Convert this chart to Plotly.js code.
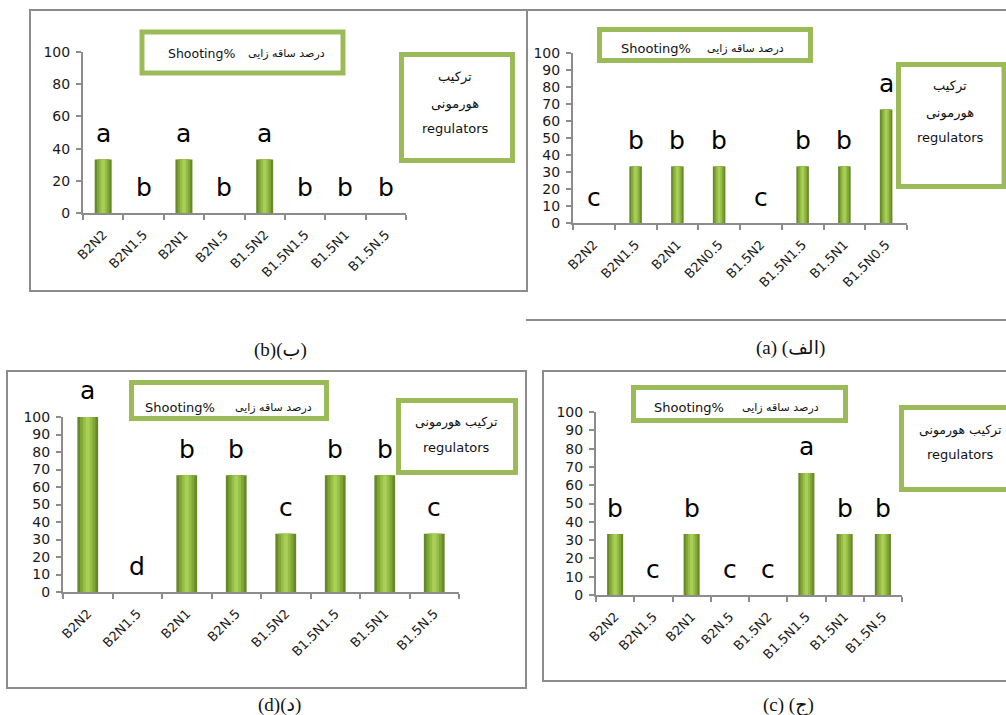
<!DOCTYPE html>
<html><head><meta charset="utf-8">
<script src="https://cdn.plot.ly/plotly-3.0.1.min.js"></script>
<style>html,body{margin:0;padding:0;background:#fff}</style>
</head><body><div id="chart" style="width:1006px;height:715px"></div>
<script>
// ---- data ----
const categoriesB = ['B2N2','B2N1.5','B2N1','B2N.5','B1.5N2','B1.5N1.5','B1.5N1','B1.5N.5'];
const categoriesA = ['B2N2','B2N1.5','B2N1','B2N0.5','B1.5N2','B1.5N1.5','B1.5N1','B1.5N0.5'];
const valuesB = [33.3,0,33.3,0,33.3,0,0,0];
const lettersB = ['a','b','a','b','a','b','b','b'];
const valuesA = [0,33.3,33.3,33.3,0,33.3,33.3,66.7];
const lettersA = ['c','b','b','b','c','b','b','a'];
const valuesD = [100,0,66.7,66.7,33.3,66.7,66.7,33.3];
const lettersD = ['a','d','b','b','c','b','b','c'];
const valuesC = [33.3,0,33.3,0,0,66.7,33.3,33.3];
const lettersC = ['b','c','b','c','c','a','b','b'];
const titleEn = 'Shooting%';
const titleFa = 'درصد ساقه زایی';
const legendFa1 = 'ترکیب';
const legendFa2 = 'هورمونی';
const legendEn = 'regulators';
const captionB = '(b)(ب)';
const captionA = '(a) (الف)';
const captionD = '(d)(د)';
const captionC = '(c) (ج)';

// ---- layout helpers ----
const W = 1006, H = 715;
const px = x => x / W;
const py = y => 1 - y / H;
const FONT = 'DejaVu Sans, sans-serif';
const GREEN = '#9bbb59';
const GRAY = '#8c8c8c';

const panels = [
  {id:'', cats:categoriesB, vals:valuesB, letters:lettersB, x:[83,406], y:[213,52], dtick:20, bw:0.42},
  {id:'2', cats:categoriesA, vals:valuesA, letters:lettersA, x:[573,907], y:[223,53], dtick:10, bw:0.30},
  {id:'3', cats:categoriesB, vals:valuesD, letters:lettersD, x:[63,459], y:[592,417], dtick:10, bw:0.42},
  {id:'4', cats:categoriesB, vals:valuesC, letters:lettersC, x:[596,902], y:[595,412], dtick:10, bw:0.42}
];

const traces = [];
const annotations = [];
const layout = {
  width: W, height: H, margin:{l:0,r:0,t:0,b:0},
  paper_bgcolor:'#fff', plot_bgcolor:'rgba(0,0,0,0)',
  showlegend:false, barmode:'overlay', hovermode:false,
  font:{family:FONT, color:'#1a1a1a'}
};

panels.forEach(p => {
  const xa = 'x' + p.id, ya = 'y' + p.id;
  const layers = [[1.0,'#67892a'],[0.74,'#80a735'],[0.46,'#96be45'],[0.2,'#a9cf58']];
  layers.forEach(([f,c]) => {
    traces.push({type:'bar', x:p.cats, y:p.vals, width:p.bw*f, xaxis:xa, yaxis:ya,
      marker:{color:c, line:{width:0}}});
  });
  layout['xaxis' + p.id] = {
    domain:[px(p.x[0]), px(p.x[1])], anchor:ya, type:'category', range:[-0.5,7.5],
    showline:true, linecolor:GRAY, linewidth:2, ticks:'outside', tickson:'boundaries',
    ticklen:5, tickwidth:2, tickcolor:GRAY, tickangle:-45, ticklabelstandoff:7,
    showgrid:false, zeroline:false,
    tickfont:{size:13, family:FONT, color:'#1a1a1a'}, fixedrange:true
  };
  layout['yaxis' + p.id] = {
    domain:[py(p.y[0]), py(p.y[1])], anchor:xa, range:[0,100], dtick:p.dtick, tick0:0,
    showline:true, linecolor:GRAY, linewidth:2, ticks:'outside', ticklen:5, tickwidth:2,
    tickcolor:GRAY, ticklabelstandoff:3, showgrid:false, zeroline:false,
    tickfont:{size:14, family:FONT, color:'#1a1a1a'}, fixedrange:true
  };
  p.cats.forEach((c,i) => {
    annotations.push({xref:xa, yref:ya, x:c, y:p.vals[i], yshift:26, text:p.letters[i],
      showarrow:false, xanchor:'center', yanchor:'middle', font:{size:25, family:FONT, color:'#000'}});
  });
});

// frames
const shapes = [];
function rect(x0,y0,x1,y1,color,w){
  shapes.push({type:'rect', xref:'paper', yref:'paper', x0:px(x0), x1:px(x1), y0:py(y0), y1:py(y1),
    line:{color:color, width:w}, fillcolor:'rgba(255,255,255,1)', layer:'above'});
}
function frame(x0,y0,x1,y1){
  shapes.push({type:'rect', xref:'paper', yref:'paper', x0:px(x0), x1:px(x1), y0:py(y0), y1:py(y1),
    line:{color:GRAY, width:2}, fillcolor:'rgba(0,0,0,0)', layer:'below'});
}
function hline(x0,x1,y){
  shapes.push({type:'line', xref:'paper', yref:'paper', x0:px(x0), x1:px(x1), y0:py(y), y1:py(y),
    line:{color:GRAY, width:2}});
}
frame(30,10,527,291);
hline(527,1006,10);
hline(526,1006,320);
frame(7,371,526,688);
frame(543,371,1012,681);

// title boxes and legend boxes
rect(142,32,343,73,GREEN,5);
rect(599.5,29.5,810.5,60.5,GREEN,5);
rect(131.5,382.5,326.5,418.5,GREEN,5);
rect(633.5,387.5,845.5,420.5,GREEN,5);
rect(401.5,54.5,512.5,160.5,GREEN,5);
rect(898.5,64.5,1004,186.5,GREEN,5);
rect(398.5,400.5,515.5,472.5,GREEN,5);
rect(901.5,407.5,1012,489.5,GREEN,5);

function txt(x,y,t,size,anchor,family){
  annotations.push({xref:'paper', yref:'paper', x:px(x), y:py(y), text:t, showarrow:false,
    xanchor:anchor||'center', yanchor:'middle', font:{size:size, family:family||FONT, color:'#111'}});
}
// titles
txt(166,53,titleEn,12.5,'left'); txt(327,53,titleFa,11,'right');
txt(619,48,titleEn,13,'left'); txt(786,48,titleFa,11,'right');
txt(143,407,titleEn,13,'left'); txt(314,407,titleFa,11,'right');
txt(652,408,titleEn,13,'left'); txt(821,408,titleFa,11,'right');
// legends
txt(455,77,legendFa1,13); txt(455,104,legendFa2,13); txt(455,128,legendEn,13);
txt(950,86,legendFa1,13); txt(950,113,legendFa2,13); txt(950,137,legendEn,13);
txt(456,422,legendFa1 + ' ' + legendFa2,12.5); txt(456,447,legendEn,13);
txt(960,430,legendFa1 + ' ' + legendFa2,12.5); txt(960,454,legendEn,13);
// captions
const SERIF = 'Liberation Serif, DejaVu Sans, serif';
txt(280,350,captionB,19,'center',SERIF);
txt(790,348,captionA,19,'center',SERIF);
txt(279,705,captionD,19,'center',SERIF);
txt(788,705,captionC,19,'center',SERIF);

layout.shapes = shapes;
layout.annotations = annotations;
Plotly.newPlot('chart', traces, layout, {staticPlot:true, displayModeBar:false});
</script></body></html>
